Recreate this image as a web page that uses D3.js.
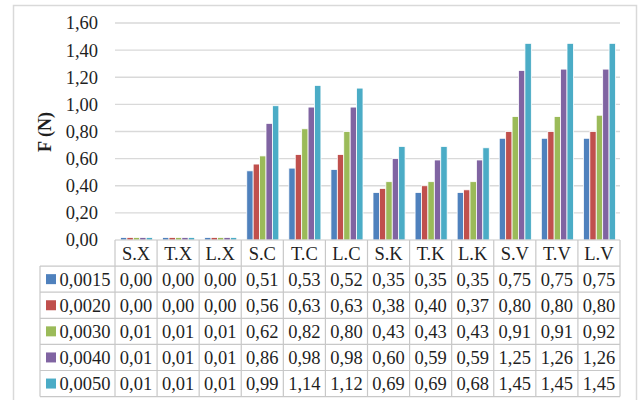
<!DOCTYPE html>
<html>
<head>
<meta charset="utf-8">
<script src="https://cdn.jsdelivr.net/npm/d3@7"></script>
<style>
  html, body { margin: 0; padding: 0; background: #fff; }
  svg { display: block; }
  text { font-family: "Liberation Serif", "Times New Roman", serif; fill: #1f1f1f; }
</style>
</head>
<body>
<svg id="chart" width="640" height="400"></svg>
<script>
// Categories along the x axis
const categories = ["S.X", "T.X", "L.X", "S.C", "T.C", "L.C", "S.K", "T.K", "L.K", "S.V", "T.V", "L.V"];
// Series names shown in the data-table legend
const seriesNames = ["0,0015", "0,0020", "0,0030", "0,0040", "0,0050"];
// Force values F (N) per series
const s0015 = [0.00, 0.00, 0.00, 0.51, 0.53, 0.52, 0.35, 0.35, 0.35, 0.75, 0.75, 0.75];
const s0020 = [0.00, 0.00, 0.00, 0.56, 0.63, 0.63, 0.38, 0.40, 0.37, 0.80, 0.80, 0.80];
const s0030 = [0.01, 0.01, 0.01, 0.62, 0.82, 0.80, 0.43, 0.43, 0.43, 0.91, 0.91, 0.92];
const s0040 = [0.01, 0.01, 0.01, 0.86, 0.98, 0.98, 0.60, 0.59, 0.59, 1.25, 1.26, 1.26];
const s0050 = [0.01, 0.01, 0.01, 0.99, 1.14, 1.12, 0.69, 0.69, 0.68, 1.45, 1.45, 1.45];
// Y axis ticks
const yTicks = [0, 0.2, 0.4, 0.6, 0.8, 1.0, 1.2, 1.4, 1.6];
const colors = ["#4f81bd", "#c0504d", "#9bbb59", "#8064a2", "#4bacc6"];

const seriesValues = [s0015, s0020, s0030, s0040, s0050];
const series = seriesNames.map((name, i) => ({ name, values: seriesValues[i], color: colors[i] }));

const fmt = v => d3.format(".2f")(v).replace(".", ",");
const fontSize = "18.5px";

const svg = d3.select("#chart");

// Outer chart frame
svg.append("rect")
  .attr("x", 13.5).attr("y", 5.5)
  .attr("width", 623).attr("height", 420)
  .attr("fill", "none").attr("stroke", "#d9d9d9").attr("stroke-width", 1.5);

const plot = { left: 115, right: 620, top: 23, bottom: 240 };

const x = d3.scaleBand().domain(categories).range([plot.left, plot.right]).padding(0);
const xInner = d3.scaleBand().domain(d3.range(series.length))
  .range([5.5, x.bandwidth() - 4.5]).padding(0);
const y = d3.scaleLinear().domain([0, 1.6]).range([plot.bottom, plot.top]);

// Horizontal gridlines
svg.append("g").selectAll("line")
  .data(yTicks.filter(t => t > 0))
  .join("line")
  .attr("x1", plot.left).attr("x2", plot.right)
  .attr("y1", d => y(d)).attr("y2", d => y(d))
  .attr("stroke", "#d9d9d9").attr("stroke-width", 1.4);

// Y axis tick labels
const yAxis = d3.axisLeft(y).tickValues(yTicks).tickFormat(fmt).tickSize(0).tickPadding(17);
const ya = svg.append("g").attr("transform", `translate(${plot.left},0)`).call(yAxis);
ya.select(".domain").remove();
ya.selectAll("text")
  .style("font-family", '"Liberation Serif", "Times New Roman", serif')
  .style("font-size", fontSize).attr("fill", "#1f1f1f");

// Y axis title
svg.append("text")
  .attr("transform", `translate(51,132) rotate(-90)`)
  .attr("text-anchor", "middle")
  .style("font-size", "18px").style("font-weight", "bold")
  .text("F (N)");

// Bars (near-zero values keep a thin visible sliver on the baseline)
const minH = 2.5;
const groups = svg.append("g").selectAll("g")
  .data(categories)
  .join("g")
  .attr("transform", d => `translate(${x(d)},0)`);

groups.selectAll("rect")
  .data((c, ci) => series.map((s, si) => ({ si, v: s.values[ci], color: s.color })))
  .join("rect")
  .attr("x", d => xInner(d.si))
  .attr("width", xInner.bandwidth())
  .attr("y", d => Math.min(y(d.v), plot.bottom - minH))
  .attr("height", d => Math.max(plot.bottom - y(d.v), minH))
  .attr("fill", d => d.color)
  .attr("stroke", "#fff").attr("stroke-width", 0.8);

// Data table
const headerTop = 240, rowH = 26.1, legendLeft = 40;
const tableBottom = headerTop + rowH * (series.length + 1);
const tableColor = "#c8c8c8";
const table = svg.append("g");

// Horizontal table lines
const hLines = d3.range(series.length + 2).map(i => headerTop + i * rowH);
table.selectAll("line.h")
  .data(hLines)
  .join("line")
  .attr("class", "h")
  .attr("x1", (d, i) => i === 0 ? plot.left : legendLeft)
  .attr("x2", plot.right)
  .attr("y1", d => d).attr("y2", d => d)
  .attr("stroke", tableColor).attr("stroke-width", 1.2);

// Vertical table lines
const vLines = categories.map(c => x(c)).concat([plot.right]);
table.selectAll("line.v")
  .data(vLines)
  .join("line")
  .attr("class", "v")
  .attr("x1", d => d).attr("x2", d => d)
  .attr("y1", headerTop).attr("y2", tableBottom)
  .attr("stroke", tableColor).attr("stroke-width", 1.2);
table.append("line")
  .attr("x1", legendLeft).attr("x2", legendLeft)
  .attr("y1", headerTop + rowH).attr("y2", tableBottom)
  .attr("stroke", tableColor).attr("stroke-width", 1.2);

// Header labels
table.selectAll("text.head")
  .data(categories)
  .join("text")
  .attr("class", "head")
  .attr("x", d => x(d) + x.bandwidth() / 2)
  .attr("y", headerTop + rowH / 2)
  .attr("dy", "0.35em")
  .attr("text-anchor", "middle")
  .style("font-size", fontSize)
  .text(d => d);

// Rows: legend key + values
series.forEach((s, si) => {
  const cy = headerTop + rowH * (si + 1) + rowH / 2;
  table.append("rect")
    .attr("x", 46).attr("y", cy - 5).attr("width", 10).attr("height", 10)
    .attr("fill", s.color);
  table.append("text")
    .attr("x", 59.5).attr("y", cy).attr("dy", "0.35em")
    .style("font-size", fontSize)
    .text(s.name);
  table.selectAll(null)
    .data(s.values)
    .join("text")
    .attr("x", (d, ci) => x(categories[ci]) + x.bandwidth() / 2)
    .attr("y", cy).attr("dy", "0.35em")
    .attr("text-anchor", "middle")
    .style("font-size", fontSize)
    .text(d => fmt(d));
});
</script>
</body>
</html>
